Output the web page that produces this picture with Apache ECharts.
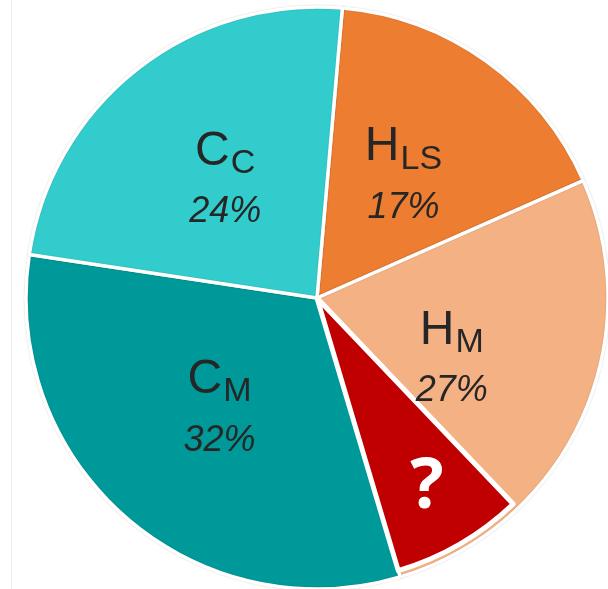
<!DOCTYPE html>
<html>
<head>
<meta charset="utf-8">
<script src="https://cdn.jsdelivr.net/npm/echarts@6/dist/echarts.min.js"></script>
<style>
  html, body { margin: 0; padding: 0; background: #ffffff; }
  #chart { width: 608px; height: 589px; }
</style>
</head>
<body>
<div id="chart"></div>
<script>
// Components of the mix, clockwise from the top
const mainLetters = ['H', 'H', 'C', 'C'];
const subLetters = ['LS', 'M', 'M', 'C'];
const shares = [17, 27, 32, 24];
const colors = ['#ED7D31', '#F4B183', '#009999', '#33CCCC'];

// Unresolved part, carved out of the end of the H_M wedge
const unknownLabel = '?';
const unknownShare = 7.5;
const unknownHost = 1;

const total = shares.reduce((a, b) => a + b, 0);
const before = shares.slice(0, unknownHost + 1).reduce((a, b) => a + b, 0) - unknownShare;
const after = total - before - unknownShare;

const textColor = '#262626';
const font = '"Liberation Sans", Arial, sans-serif';
const centerXY = [317, 298];
const startAngle = 85;

const baseData = shares.map((v, i) => ({
  name: mainLetters[i] + '_' + subLetters[i],
  value: v,
  itemStyle: { color: colors[i] },
  label: {
    formatter: '{m|' + mainLetters[i] + '}{s|' + subLetters[i] + '}\n{p|' + v + '%}'
  }
}));

const hidden = { color: 'transparent', borderWidth: 0 };
const overlayData = [
  { name: 'lead', value: before, itemStyle: hidden },
  { name: unknownLabel, value: unknownShare, itemStyle: { color: '#C00000', borderColor: '#ffffff', borderWidth: 5 } },
  { name: 'rest', value: after, itemStyle: hidden }
];
const labelData = [
  { name: 'lead', value: before, itemStyle: hidden, label: { show: false } },
  { name: unknownLabel, value: unknownShare, itemStyle: hidden, label: { show: true } },
  { name: 'rest', value: after, itemStyle: hidden, label: { show: false } }
];

const chart = echarts.init(document.getElementById('chart'), null, { renderer: 'canvas' });
chart.setOption({
  animation: false,
  backgroundColor: '#ffffff',
  graphic: [{
    type: 'line',
    z: -1,
    shape: { x1: 11.5, y1: 0, x2: 11.5, y2: 589 },
    style: { stroke: '#ececec', lineWidth: 1 }
  }],
  series: [
    {
      type: 'pie',
      center: centerXY,
      radius: [0, 291],
      startAngle: startAngle,
      clockwise: true,
      avoidLabelOverlap: false,
      silent: true,
      itemStyle: {
        borderColor: '#ffffff',
        borderWidth: 3.5,
        shadowBlur: 1.5,
        shadowColor: 'rgba(0,0,0,0.2)'
      },
      label: {
        show: true,
        position: 'inside',
        align: 'center',
        rich: {
          m: { fontFamily: font, fontSize: 48, color: textColor, lineHeight: 58, padding: [0, 0, 2, 0] },
          s: { fontFamily: font, fontSize: 34, color: textColor, lineHeight: 58, padding: [22, 0, 0, 1] },
          p: { fontFamily: font, fontSize: 36, fontStyle: 'italic', color: textColor, lineHeight: 58, padding: [4, 0, 0, 0] }
        }
      },
      labelLine: { show: false },
      emphasis: { disabled: true },
      data: baseData
    },
    {
      type: 'pie',
      center: centerXY,
      radius: [0, 284.5],
      startAngle: startAngle,
      clockwise: true,
      avoidLabelOverlap: false,
      silent: true,
      label: { show: false },
      labelLine: { show: false },
      emphasis: { disabled: true },
      data: overlayData
    },
    {
      type: 'pie',
      center: centerXY,
      radius: [148, 284.5],
      startAngle: startAngle,
      clockwise: true,
      avoidLabelOverlap: false,
      silent: true,
      label: {
        position: 'inside',
        formatter: '{b}',
        fontFamily: '"Open Sans", sans-serif',
        fontWeight: 'bold',
        fontSize: 70,
        color: '#ffffff'
      },
      labelLine: { show: false },
      emphasis: { disabled: true },
      data: labelData
    }
  ]
});
</script>
</body>
</html>
